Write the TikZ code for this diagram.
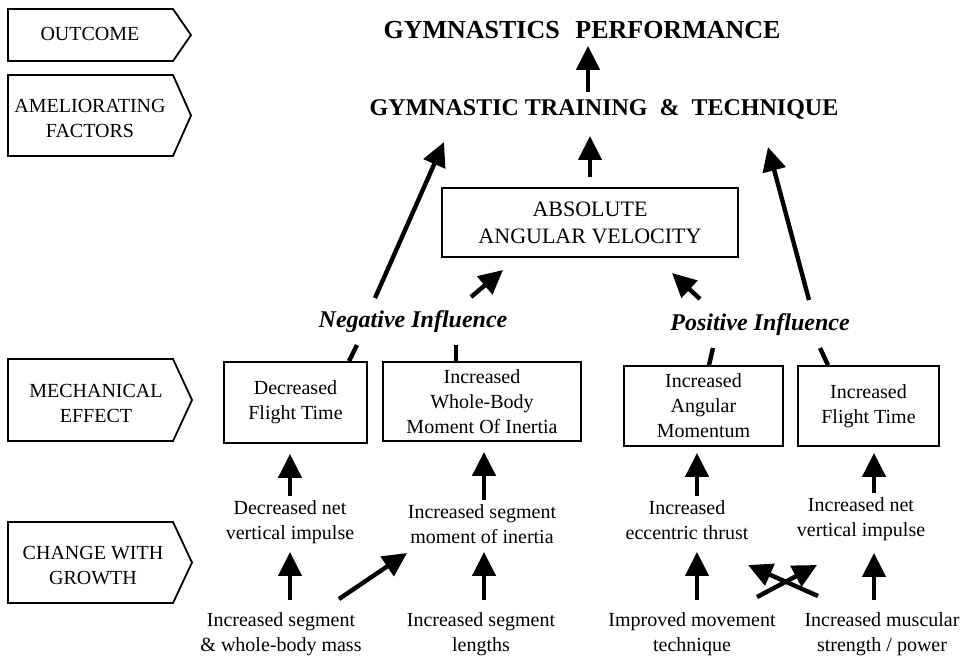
\documentclass[tikz,border=0pt]{standalone}
\usepackage{fontspec}
\setmainfont{Liberation Serif}
\usetikzlibrary{arrows.meta}

\begin{document}
\begin{tikzpicture}[x=0.5pt,y=-0.5pt,
    boite/.style={draw, line width=0.9pt, align=center, inner sep=0pt, font=\fontsize{10}{12.5}\selectfont},
    texte/.style={align=center, inner sep=0pt, font=\fontsize{10}{12.5}\selectfont},
    etiquette/.style={draw, line width=0.9pt, line join=miter},
    fleche/.style={line width=2.2pt, -{Triangle[length=12pt,width=11.5pt]}},
    trait/.style={line width=2.2pt}]
    \useasboundingbox (0,0) rectangle (967,665);

    % Etiquettes de niveau (à gauche)
    \draw[etiquette] (8,9) -- (173,9) -- (191,35) -- (173,61) -- (8,61) -- cycle;
    \node[texte] (Lout) at (90,34) {OUTCOME};
    \draw[etiquette] (8,75) -- (173,75) -- (191,115.5) -- (173,156) -- (8,156) -- cycle;
    \node[texte] (Lame) at (90,118) {AMELIORATING\\FACTORS};
    \draw[etiquette] (8,359) -- (173,359) -- (192,400) -- (173,441) -- (8,441) -- cycle;
    \node[texte] (Lmec) at (96,403) {MECHANICAL\\EFFECT};
    \draw[etiquette] (8,522) -- (173,522) -- (192,562.5) -- (173,603) -- (8,603) -- cycle;
    \node[texte] (Lcha) at (93,566) {CHANGE WITH\\GROWTH};

    % Titres
    \node[font=\bfseries\fontsize{13}{15}\selectfont] (P) at (582,30) {GYMNASTICS\hspace{0.6em}PERFORMANCE};
    \node[font=\bfseries\fontsize{12}{14}\selectfont] (E) at (604,109) {GYMNASTIC TRAINING\hspace{0.5em}\&\hspace{0.5em}TECHNIQUE};

    % Vitesse angulaire
    \node[boite, font=\fontsize{11}{13.5}\selectfont, minimum width=148pt, minimum height=34.5pt] (V) at (590,222.5) {ABSOLUTE\\ANGULAR VELOCITY};

    % Influences
    \node[font=\bfseries\itshape\fontsize{12}{14}\selectfont] (NI) at (413,322) {Negative Influence};
    \node[font=\bfseries\itshape\fontsize{12}{14}\selectfont] (PI) at (760,325) {Positive Influence};

    % Effets mécaniques
    \node[boite, minimum width=71.5pt, minimum height=40.5pt] (DFT) at (295.5,402.5) {Decreased\\Flight Time};
    \node[boite, minimum width=99pt, minimum height=39.5pt] (WBM) at (482,401.5) {Increased\\Whole-Body\\Moment Of Inertia};
    \node[boite, minimum width=79.5pt, minimum height=40pt] (AM) at (703.5,406) {Increased\\Angular\\Momentum};
    \node[boite, minimum width=70.5pt, minimum height=40pt] (IFT) at (868.5,406) {Increased\\Flight Time};

    % Changements avec la croissance
    \node[texte] (DVI) at (290,522) {Decreased net\\vertical impulse};
    \node[texte] (ISM) at (482,524) {Increased segment\\moment of inertia};
    \node[texte] (IET) at (687,520) {Increased\\eccentric thrust};
    \node[texte] (IVI) at (861,519) {Increased net\\vertical impulse};

    % Causes
    \node[texte] (ISW) at (281,634) {Increased segment\\\& whole-body mass};
    \node[texte] (ISL) at (481,634) {Increased segment\\lengths};
    \node[texte] (IMT) at (692,634) {Improved movement\\technique};
    \node[texte] (IMS) at (882,634) {Increased muscular\\strength / power};

    % Colonnes des flèches verticales
    \coordinate (c1) at (290,0);
    \coordinate (c2) at (484,0);
    \coordinate (c3) at (697,0);
    \coordinate (c4) at (874,0);

    % Flèches du haut
    \draw[fleche] (E.north -| 588,0) -- (P.south -| 588,0);
    \draw[fleche, shorten <=5pt, shorten >=5pt] (V.north) -- (V.north |- E.south);

    % Flèches longues et traits
    \coordinate (nA) at (375,298);
    \coordinate (gA) at (444,142);
    \coordinate (pA) at (809,300);
    \coordinate (gB) at (768,147);
    \draw[fleche] (nA) -- (gA);
    \draw[fleche] (pA) -- (gB);
    \coordinate (nB) at (471,297);
    \coordinate (vA) at (503,270);
    \coordinate (pB) at (700,299);
    \coordinate (vB) at (672,273);
    \draw[fleche] (nB) -- (vA);
    \draw[fleche] (pB) -- (vB);
    \coordinate (tA) at (357,345);
    \coordinate (tB) at (456,345);
    \coordinate (tC) at (713,348);
    \coordinate (tD) at (820,348);
    \draw[trait] (tA) -- (DFT.north -| 349,0);
    \draw[trait] (tB) -- (tB |- WBM.north);
    \draw[trait] (tC) -- (AM.north -| 709,0);
    \draw[trait] (tD) -- (IFT.north -| 828,0);

    % Flèches vers les effets
    \draw[fleche, shorten <=2pt, shorten >=5pt] (c1 |- DVI.north) -- (c1 |- DFT.south);
    \draw[fleche, shorten <=2pt, shorten >=5pt] (c2 |- ISM.north) -- (c2 |- WBM.south);
    \draw[fleche, shorten <=2pt, shorten >=3pt] (c3 |- IET.north) -- (c3 |- AM.south);
    \draw[fleche, shorten <=2pt, shorten >=3pt] (c4 |- IVI.north) -- (c4 |- IFT.south);

    % Flèches du bas
    \draw[fleche, shorten <=6pt, shorten >=4pt] (c1 |- ISW.north) -- (c1 |- DVI.south);
    \draw[fleche, shorten <=6pt, shorten >=4pt] (c2 |- ISL.north) -- (c2 |- ISM.south);
    \draw[fleche, shorten <=6pt, shorten >=6pt] (c3 |- IMT.north) -- (c3 |- IET.south);
    \draw[fleche, shorten <=6pt, shorten >=6pt] (c4 |- IMS.north) -- (c4 |- IVI.south);
    \coordinate (dA) at (339,599);
    \coordinate (dB) at (407,553);
    \draw[fleche] (dA) -- (dB);
    \coordinate (xA) at (757,597);
    \coordinate (xB) at (817,565);
    \coordinate (xC) at (818,596);
    \coordinate (xD) at (748,565);
    \draw[fleche] (xA) -- (xB);
    \draw[fleche] (xC) -- (xD);
\end{tikzpicture}
\end{document}
